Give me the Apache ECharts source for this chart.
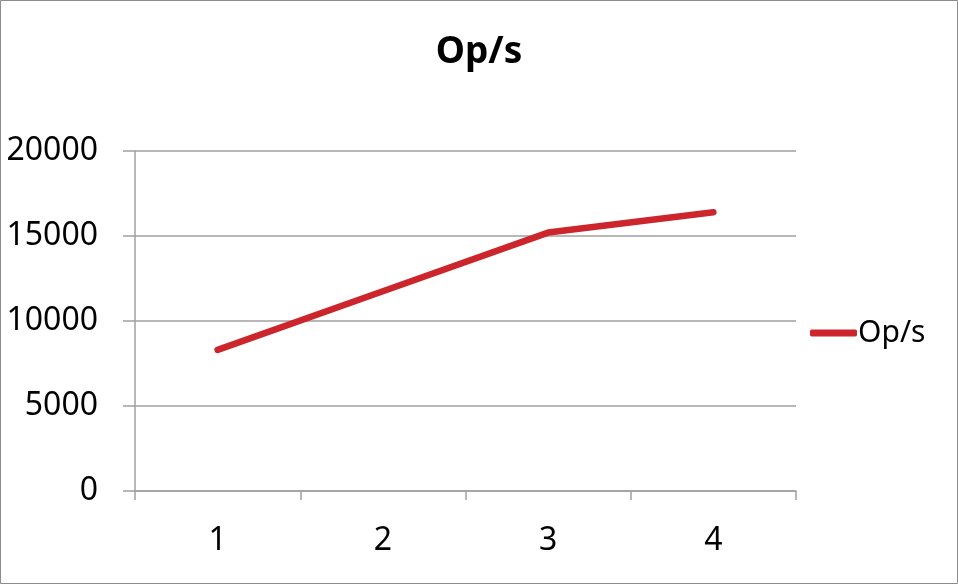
<!DOCTYPE html>
<html>
<head>
<meta charset="utf-8">
<style>
html,body{margin:0;padding:0;background:#fff;}
#chart{width:958px;height:584px;}
</style>
<script src="https://cdn.jsdelivr.net/npm/echarts@6/dist/echarts.min.js"></script>
</head>
<body>
<div id="chart"></div>
<script>
var categories = ['1', '2', '3', '4'];
var opsValues = [8300, 11750, 15200, 16400];
var yTicks = { min: 0, max: 20000, interval: 5000 };
var seriesName = 'Op/s';
var titleText = 'Op/s';

var chart = echarts.init(document.getElementById('chart'), null, { renderer: 'canvas' });
var font = '"Noto Sans", "Open Sans", sans-serif';
var axisGray = '#A0A0A0';
chart.setOption({
  animation: false,
  backgroundColor: '#fff',
  graphic: [{
    type: 'rect',
    shape: { x: 0.5, y: 0.5, width: 957, height: 583 },
    style: { fill: 'none', stroke: '#8c8c8c', lineWidth: 1 },
    silent: true
  }],
  title: {
    text: titleText,
    left: 'center',
    top: 29,
    textStyle: { fontFamily: font, fontWeight: 'bold', fontSize: 37, color: '#000' }
  },
  legend: {
    data: [seriesName],
    left: 805,
    top: 313,
    icon: 'roundRect',
    itemWidth: 47,
    itemHeight: 7,
    textStyle: { fontFamily: font, fontSize: 30, color: '#000', padding: [0, 0, 0, -4] }
  },
  grid: { left: 135, right: 162, top: 151, bottom: 93, containLabel: false },
  xAxis: {
    type: 'category',
    data: categories,
    boundaryGap: true,
    axisLine: { show: true, lineStyle: { color: axisGray, width: 1.5 } },
    axisTick: { show: true, length: 9, lineStyle: { color: axisGray, width: 1.5 } },
    axisLabel: { fontFamily: font, fontSize: 32, color: '#000', margin: 34 },
    splitLine: { show: false }
  },
  yAxis: {
    type: 'value',
    min: yTicks.min,
    max: yTicks.max,
    interval: yTicks.interval,
    axisLine: { show: true, lineStyle: { color: axisGray, width: 1.5 } },
    axisTick: { show: true, length: 12, lineStyle: { color: axisGray, width: 1.5 } },
    axisLabel: {
      fontFamily: font, fontSize: 32, color: '#000', margin: 37,
      formatter: function (v) { return String(v); }
    },
    splitLine: { show: true, lineStyle: { color: axisGray, width: 1.5 } }
  },
  series: [{
    name: seriesName,
    type: 'line',
    data: opsValues,
    symbol: 'none',
    showSymbol: false,
    color: '#CC252B',
    lineStyle: { color: '#CC252B', width: 6.5, cap: 'round', join: 'round' }
  }]
});
</script>
</body>
</html>
